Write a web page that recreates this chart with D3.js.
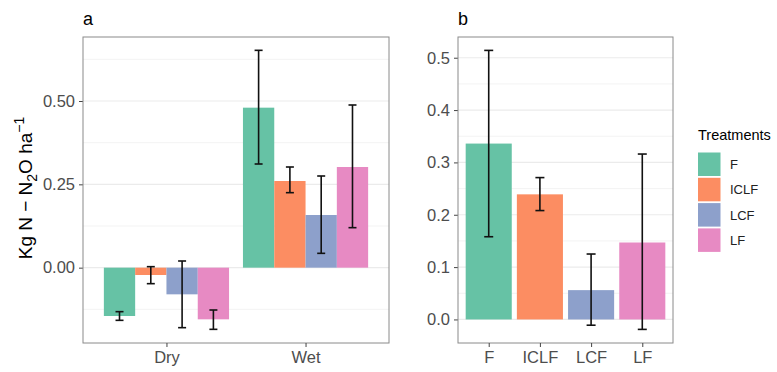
<!DOCTYPE html>
<html>
<head>
<meta charset="utf-8">
<script src="https://cdn.jsdelivr.net/npm/d3@7"></script>
<style>
  body { margin: 0; background: #fff; }
  text { font-family: "Liberation Sans", Arial, sans-serif; }
</style>
</head>
<body>
<div id="chart"></div>
<script>
// data
const treatments = ['F', 'ICLF', 'LCF', 'LF'];
const seasons = ['Dry', 'Wet'];
const colors = ['#66c2a5', '#fc8d62', '#8da0cb', '#e78ac3'];

const dryMean = [-0.145, -0.022, -0.080, -0.155];
const dryLow  = [-0.158, -0.048, -0.180, -0.185];
const dryHigh = [-0.132,  0.003,  0.020, -0.127];

const wetMean = [0.480, 0.260, 0.158, 0.302];
const wetLow  = [0.311, 0.225, 0.043, 0.120];
const wetHigh = [0.652, 0.302, 0.275, 0.488];

const totalMean = [0.336, 0.239, 0.056, 0.147];
const totalLow  = [0.158, 0.208, -0.011, -0.019];
const totalHigh = [0.514, 0.271, 0.125, 0.316];

const ticksA = [0, 0.25, 0.5];
const minorA = [-0.125, 0.125, 0.375, 0.625];
const ticksB = [0, 0.1, 0.2, 0.3, 0.4, 0.5];
const minorB = [0.05, 0.15, 0.25, 0.35, 0.45];

const W = 777, H = 372;
const PANEL_A = {left: 83, right: 389, top: 37, bottom: 343};
const PANEL_B = {left: 458, right: 673, top: 37, bottom: 343};
const GRID = '#ebebeb', BORDER = '#8a8a8a', TICK_COL = '#4d4d4d';
const TICK_FONT = '16.5px';

const svg = d3.select('#chart').append('svg')
  .attr('width', W).attr('height', H);

function drawPanel(p, y, ticks, minor, fmt, label) {
  const g = svg.append('g');
  g.selectAll('.minor').data(minor).enter().append('line')
    .attr('x1', p.left).attr('x2', p.right)
    .attr('y1', d => y(d)).attr('y2', d => y(d))
    .attr('stroke', '#f3f3f3').attr('stroke-width', 1);
  g.selectAll('.major').data(ticks).enter().append('line')
    .attr('x1', p.left).attr('x2', p.right)
    .attr('y1', d => y(d)).attr('y2', d => y(d))
    .attr('stroke', GRID).attr('stroke-width', 1.2);
  // y axis
  const yAxis = d3.axisLeft(y).tickValues(ticks).tickFormat(fmt).tickSize(4).tickPadding(4);
  const ax = svg.append('g')
    .attr('transform', 'translate(' + p.left + ',0)')
    .call(yAxis);
  ax.select('.domain').remove();
  ax.selectAll('line').attr('stroke', '#444');
  ax.selectAll('text').attr('fill', TICK_COL).style('font-size', TICK_FONT)
    .style('font-family', '"Liberation Sans", Arial, sans-serif');
  svg.append('text')
    .attr('x', p.left).attr('y', 25)
    .style('font-size', '18px').attr('fill', '#000')
    .text(label);
  return g;
}

function drawBorder(p) {
  svg.append('rect')
    .attr('x', p.left).attr('y', p.top)
    .attr('width', p.right - p.left).attr('height', p.bottom - p.top)
    .attr('fill', 'none').attr('stroke', BORDER).attr('stroke-width', 1);
}

function xAxisBottom(p, x) {
  const ax = svg.append('g')
    .attr('transform', 'translate(0,' + p.bottom + ')')
    .call(d3.axisBottom(x).tickSize(4).tickPadding(4));
  ax.select('.domain').remove();
  ax.selectAll('line').attr('stroke', '#444');
  ax.selectAll('text').attr('fill', TICK_COL).style('font-size', TICK_FONT)
    .style('font-family', '"Liberation Sans", Arial, sans-serif');
}

function errorBars(g, data, y, half) {
  g.selectAll(null).data(data).enter().append('line')
    .attr('x1', d => d.x).attr('x2', d => d.x)
    .attr('y1', d => y(d.lo)).attr('y2', d => y(d.hi))
    .attr('stroke', '#111').attr('stroke-width', 1.6);
  ['lo', 'hi'].forEach(k => {
    g.selectAll(null).data(data).enter().append('line')
      .attr('x1', d => d.x - half).attr('x2', d => d.x + half)
      .attr('y1', d => y(d[k])).attr('y2', d => y(d[k]))
      .attr('stroke', '#111').attr('stroke-width', 1.6);
  });
}

// ---- panel a ----
const yA = d3.scaleLinear().domain([-0.226, 0.692]).range([PANEL_A.bottom, PANEL_A.top]);
const xA = d3.scalePoint().domain(seasons).range([PANEL_A.left, PANEL_A.right]).padding(0.6);
const stepA = xA.step();
const xInner = d3.scaleBand().domain(treatments).range([-stepA * 0.45, stepA * 0.45]);

const gA = drawPanel(PANEL_A, yA, ticksA, minorA, d3.format('.2f'), 'a');
const rowsA = [];
seasons.forEach((s, si) => {
  const m = si === 0 ? dryMean : wetMean;
  const lo = si === 0 ? dryLow : wetLow;
  const hi = si === 0 ? dryHigh : wetHigh;
  treatments.forEach((t, ti) => {
    rowsA.push({season: s, t: t, i: ti, v: m[ti], lo: lo[ti], hi: hi[ti],
      x: xA(s) + xInner(t) + xInner.bandwidth() / 2});
  });
});
gA.selectAll('.bar').data(rowsA).enter().append('rect')
  .attr('x', d => xA(d.season) + xInner(d.t))
  .attr('width', xInner.bandwidth())
  .attr('y', d => yA(Math.max(0, d.v)))
  .attr('height', d => Math.abs(yA(d.v) - yA(0)))
  .attr('fill', d => colors[d.i]);
errorBars(gA, rowsA, yA, 4);
drawBorder(PANEL_A);
xAxisBottom(PANEL_A, xA);

// y axis title
svg.append('text')
  .attr('transform', 'translate(32,188) rotate(-90)')
  .attr('text-anchor', 'middle')
  .style('font-size', '19px').attr('fill', '#000')
  .html('Kg N \u2212 N<tspan dy="5" font-size="14">2</tspan><tspan dy="-5">O ha</tspan><tspan dy="-8" font-size="14">\u22121</tspan>');

// ---- panel b ----
const yB = d3.scaleLinear().domain([-0.045, 0.5396]).range([PANEL_B.bottom, PANEL_B.top]);
const xB = d3.scalePoint().domain(treatments).range([PANEL_B.left, PANEL_B.right]).padding(0.6);
const bwB = xB.step() * 0.9;
const gB = drawPanel(PANEL_B, yB, ticksB, minorB, d3.format('.1f'), 'b');
const rowsB = treatments.map((t, i) => ({t: t, i: i, v: totalMean[i], lo: totalLow[i], hi: totalHigh[i], x: xB(t)}));
gB.selectAll('.bar').data(rowsB).enter().append('rect')
  .attr('x', d => xB(d.t) - bwB / 2)
  .attr('width', bwB)
  .attr('y', d => yB(Math.max(0, d.v)))
  .attr('height', d => Math.abs(yB(d.v) - yB(0)))
  .attr('fill', d => colors[d.i]);
errorBars(gB, rowsB, yB, 4.5);
drawBorder(PANEL_B);
xAxisBottom(PANEL_B, xB);

// ---- legend ----
const lg = svg.append('g').attr('transform', 'translate(697,0)');
lg.append('text').attr('x', 1).attr('y', 140)
  .style('font-size', '14.5px').attr('fill', '#000').text('Treatments');
treatments.forEach((t, i) => {
  lg.append('rect')
    .attr('x', 1).attr('y', 152.5 + i * 25.3)
    .attr('width', 22.5).attr('height', 23.5)
    .attr('fill', colors[i]);
  lg.append('text')
    .attr('x', 33).attr('y', 152.5 + i * 25.3 + 16.5)
    .style('font-size', '13px').attr('fill', '#222').text(t);
});
</script>
</body>
</html>
